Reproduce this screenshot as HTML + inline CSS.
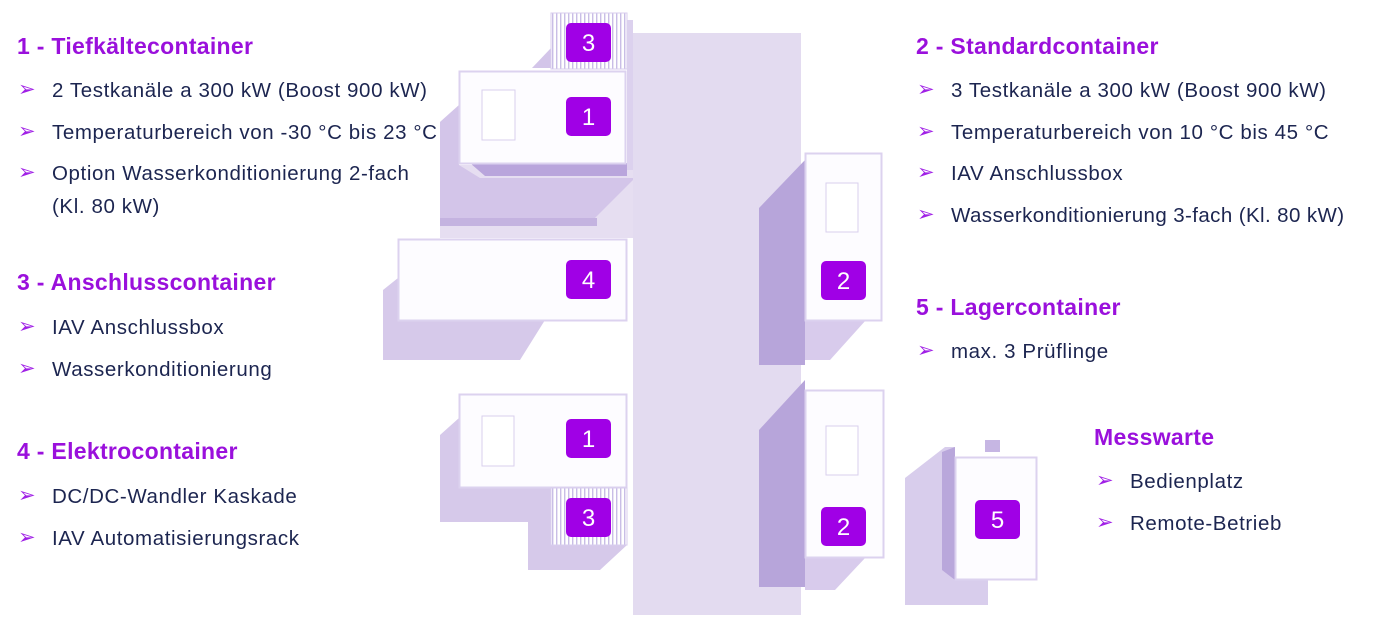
<!DOCTYPE html>
<html><head><meta charset="utf-8"><style>
body{margin:0;width:1385px;height:630px;background:#fff;position:relative;overflow:hidden;font-family:"Liberation Sans",Arial,sans-serif}
.h{position:absolute;font-weight:bold;font-size:23px;letter-spacing:0.3px;color:#9a10dc;white-space:nowrap;margin-top:1px}
.l{position:absolute;font-size:20.5px;letter-spacing:0.6px;color:#1c2550;white-space:nowrap;margin-top:2px}
.b{position:absolute;font-size:21px;color:#a020e6;margin-top:0px}
svg{position:absolute;left:0;top:0}
</style></head><body>
<svg width="1385" height="630" viewBox="0 0 1385 630">
<defs>
<pattern id="st" width="4" height="10" patternUnits="userSpaceOnUse"><rect width="4" height="10" fill="#fff"/><rect width="1.4" height="10" fill="#c9bde6"/></pattern>
</defs>
<rect x="633" y="33" width="168" height="582" fill="#e3dbf0"/>
<polygon points="440,122 459,105 459,165 633,165 633,218 595,218 633,180 633,238 440,238" fill="#e6def1"/>
<polygon points="440,122 459,105 459,165 480,178 633,178 633,180 595,218 440,218" fill="#d3c5e9"/>
<rect x="440" y="218" width="157" height="8" fill="#c4b3e0"/>
<polygon points="532,68 551,48 551,68" fill="#d3c5e9"/>
<polygon points="470,163 627,163 627,176 485,176" fill="#b9a5dc"/>
<polygon points="383,290 398,278 398,320 545,320 525,352 520,360 383,360" fill="#d6c9ea"/>
<polygon points="759,208 805,160 805,365 759,365" fill="#b7a5da"/>
<polygon points="805,320 866,320 830,360 805,360" fill="#d8cbec"/>
<polygon points="759,430 805,380 805,587 759,587" fill="#b7a5da"/>
<polygon points="805,557 866,557 835,590 805,590" fill="#d8cbec"/>
<polygon points="440,435 459,418 459,488 551,488 551,545 627,545 600,570 528,570 528,522 440,522" fill="#d6c9ea"/>
<polygon points="905,478 945,447 955,447 955,605 905,605" fill="#d8cdec"/>
<polygon points="942,452 955,447 955,580 942,570" fill="#b9a7db"/>
<rect x="955" y="580" width="33" height="25" fill="#d8cdec"/>
<rect x="551" y="13" width="76" height="56" fill="url(#st)" stroke="#d8cdee"/>
<rect x="627" y="20" width="6" height="150" fill="#dcd1ee"/>
<rect x="459.5" y="71.5" width="166" height="92" fill="#fdfcff" stroke="#dcd2ef" stroke-width="2"/>
<rect x="482" y="90" width="33" height="50" fill="#fff" stroke="#d9cfee"/>
<rect x="398.5" y="239.5" width="228" height="81" fill="#fdfcff" stroke="#dcd2ef" stroke-width="2"/>
<rect x="805.5" y="153.5" width="76" height="167" fill="#fdfcff" stroke="#dcd2ef" stroke-width="2"/>
<rect x="826" y="183" width="32" height="49" fill="#fff" stroke="#d9cfee"/>
<rect x="459.5" y="394.5" width="167" height="93" fill="#fdfcff" stroke="#dcd2ef" stroke-width="2"/>
<rect x="482" y="416" width="32" height="50" fill="#fff" stroke="#d9cfee"/>
<rect x="551" y="488" width="76" height="57" fill="url(#st)" stroke="#d8cdee"/>
<rect x="805.5" y="390.5" width="78" height="167" fill="#fdfcff" stroke="#dcd2ef" stroke-width="2"/>
<rect x="826" y="426" width="32" height="49" fill="#fff" stroke="#d9cfee"/>
<rect x="955.5" y="457.5" width="81" height="122" fill="#fdfcff" stroke="#dcd2ef" stroke-width="2"/>
<rect x="985" y="440" width="15" height="12" fill="#c6b6e3"/>
<g fill="#a000e6">
<rect x="566" y="23" width="45" height="39" rx="5"/>
<rect x="566" y="97" width="45" height="39" rx="5"/>
<rect x="566" y="260" width="45" height="39" rx="5"/>
<rect x="821" y="261" width="45" height="39" rx="5"/>
<rect x="566" y="419" width="45" height="39" rx="5"/>
<rect x="566" y="498" width="45" height="39" rx="5"/>
<rect x="821" y="507" width="45" height="39" rx="5"/>
<rect x="975" y="500" width="45" height="39" rx="5"/>
</g>
<g fill="#fff" font-family="Liberation Sans, Arial, sans-serif" font-size="24" text-anchor="middle">
<text x="588.5" y="51">3</text><text x="588.5" y="125">1</text><text x="588.5" y="288">4</text>
<text x="843.5" y="289">2</text><text x="588.5" y="447">1</text><text x="588.5" y="526">3</text>
<text x="843.5" y="535">2</text><text x="997.5" y="528">5</text>
</g>
</svg>

<div class="h" style="left:17px;top:32px">1 - Tiefkältecontainer</div>
<div class="b" style="left:18px;top:77px">➢</div><div class="l" style="left:52px;top:77px">2 Testkanäle a 300 kW (Boost 900 kW)</div>
<div class="b" style="left:18px;top:119px">➢</div><div class="l" style="left:52px;top:119px">Temperaturbereich von -30 °C bis 23 °C</div>
<div class="b" style="left:18px;top:160px">➢</div><div class="l" style="left:52px;top:160px">Option Wasserkonditionierung 2-fach</div>
<div class="l" style="left:52px;top:193px">(Kl. 80 kW)</div>

<div class="h" style="left:17px;top:268px">3 - Anschlusscontainer</div>
<div class="b" style="left:18px;top:314px">➢</div><div class="l" style="left:52px;top:314px">IAV Anschlussbox</div>
<div class="b" style="left:18px;top:356px">➢</div><div class="l" style="left:52px;top:356px">Wasserkonditionierung</div>

<div class="h" style="left:17px;top:437px">4 - Elektrocontainer</div>
<div class="b" style="left:18px;top:483px">➢</div><div class="l" style="left:52px;top:483px">DC/DC-Wandler Kaskade</div>
<div class="b" style="left:18px;top:525px">➢</div><div class="l" style="left:52px;top:525px">IAV Automatisierungsrack</div>

<div class="h" style="left:916px;top:32px">2 - Standardcontainer</div>
<div class="b" style="left:917px;top:77px">➢</div><div class="l" style="left:951px;top:77px">3 Testkanäle a 300 kW (Boost 900 kW)</div>
<div class="b" style="left:917px;top:119px">➢</div><div class="l" style="left:951px;top:119px">Temperaturbereich von 10 °C bis 45 °C</div>
<div class="b" style="left:917px;top:160px">➢</div><div class="l" style="left:951px;top:160px">IAV Anschlussbox</div>
<div class="b" style="left:917px;top:202px">➢</div><div class="l" style="left:951px;top:202px;letter-spacing:0.4px">Wasserkonditionierung 3-fach (Kl. 80 kW)</div>

<div class="h" style="left:916px;top:293px">5 - Lagercontainer</div>
<div class="b" style="left:917px;top:338px">➢</div><div class="l" style="left:951px;top:338px">max. 3 Prüflinge</div>

<div class="h" style="left:1094px;top:423px">Messwarte</div>
<div class="b" style="left:1096px;top:468px">➢</div><div class="l" style="left:1130px;top:468px">Bedienplatz</div>
<div class="b" style="left:1096px;top:510px">➢</div><div class="l" style="left:1130px;top:510px">Remote-Betrieb</div>
</body></html>
